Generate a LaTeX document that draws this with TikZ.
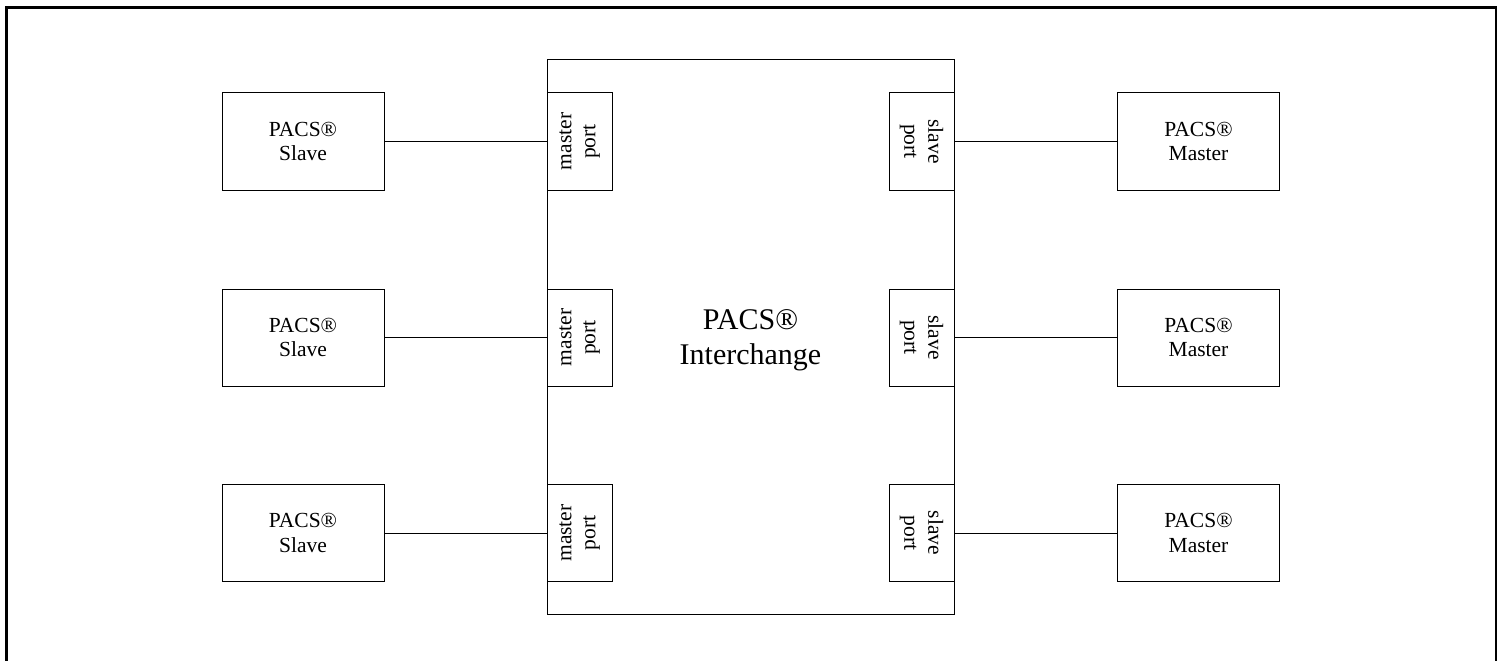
\documentclass[tikz,border=0pt]{standalone}
\usepackage{fontspec}
\setmainfont{Liberation Serif}
\begin{document}
\begin{tikzpicture}[x=1pt,y=-1pt,
  box/.style={draw,line width=1pt,minimum width=162pt,minimum height=97pt,inner sep=0pt,align=center,font=\fontsize{21.5}{24.5}\selectfont},
  portbox/.style={draw,line width=1pt,minimum width=65pt,minimum height=97pt,inner sep=0pt},
  porttext/.style={inner sep=0pt,align=center,font=\fontsize{21.5}{24}\selectfont},
  link/.style={line width=1pt}]
\useasboundingbox (0,0) rectangle (1500,661);
\draw[line width=2.5pt] (6.5,680) -- (6.5,7.5) -- (1496,7.5) -- (1496,680);
\node[draw,line width=1pt,minimum width=407pt,minimum height=554pt,inner sep=0pt] (inter) at (750.5,337) {};
\node[inner sep=0pt,align=center,font=\fontsize{30}{35}\selectfont] (intertext) at (750.5,340) {PACS®\\Interchange};
\foreach \i/\y in {1/141.5,2/337.5,3/533}{
  \node[box] (slave\i) at (303,\y) {PACS®\\Slave};
  \node[portbox] (mport\i) at (579.5,\y) {};
  \node[porttext,rotate=90] at (mport\i.center) {master\\port};
  \node[portbox] (sport\i) at (921.5,\y) {};
  \node[porttext,rotate=-90] at (sport\i.center) {slave\\port};
  \node[box] (master\i) at (1198.5,\y) {PACS®\\Master};
  \draw[link] (slave\i.east) -- (mport\i.west);
  \draw[link] (sport\i.east) -- (master\i.west);
}
\end{tikzpicture}
\end{document}
